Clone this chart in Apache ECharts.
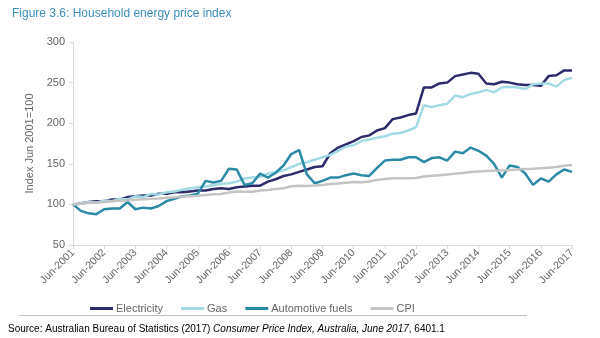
<!DOCTYPE html>
<html>
<head>
<meta charset="utf-8">
<script src="https://cdn.jsdelivr.net/npm/echarts@6/dist/echarts.min.js"></script>
<style>html,body{margin:0;padding:0;background:#fff}#c{width:600px;height:338px}</style>
</head>
<body>
<div id="c"></div>
<script>
var years = ['2001','2002','2003','2004','2005','2006','2007','2008','2009','2010','2011','2012','2013','2014','2015','2016','2017'];
var months = ['Jun','Sep','Dec','Mar'];
var categories = [];
for (var y = 0; y < years.length; y++) {
  for (var m = 0; m < 4; m++) {
    if (y === years.length - 1 && m > 0) break;
    var yr = m === 3 ? years[y + 1] : years[y];
    categories.push(months[m] + '-' + yr);
  }
}

var electricity = [100,101,103,104,104,106,106,109,110,111, 111,113,113,115,115,116,117,117,119,120, 119,121,122,123,123,128,131,135,137,140, 143,146,147,163,170,174,178,183,185,191, 194,205,207,210,212,244,244,249,250,258, 260,262,261,249,248,251,250,248,247,247, 246,258,259,265,265];
var gas = [100,101,103,102,105,104,107,106,110,109, 113,112,115,116,118,120,121,122,124,125, 126,128,132,133,134,138,140,142,146,150, 152,155,158,161,166,171,173,178,180,182, 184,187,188,191,195,222,220,222,224,234, 232,236,238,241,238,244,245,244,242,248, 249,249,245,253,256];
var fuels = [100,92,89,88,94,95,95,103,94,96, 95,98,104,107,110,111,113,129,127,129, 144,143,124,126,138,133,139,148,162,167, 137,126,129,133,133,136,138,136,135,145, 154,155,155,158,158,152,157,158,154,165, 163,170,166,160,150,133,148,146,138,124, 132,128,137,143,140];
var cpi = [100,100.7,101.6,102.4,103,103.8,104.5,105.2,105.7,106.3, 106.9,107.3,108.1,108.8,109.6,110.1,110.6,111.6,112.4,112.9, 114.6,115.8,115.6,115.5,117,117.8,118.9,119.8,122.3,123, 122.7,123.2,124,125.1,125.6,126.6,127.5,127.4,128.2,130.2, 131.2,132.2,132.3,132.1,132.6,134.4,135.2,136,136.8,137.9, 138.8,139.8,140.4,141,141.4,141.6,142.4,143,143.7,144, 144.4,145.2,146,147.5,148.5];
var seriesNames = ['Electricity','Gas','Automotive fuels','CPI'];
var yTicks = [50, 100, 150, 200, 250, 300];

var colors = ['#2d2b6b', '#a3dbe4', '#2a8aa5', '#c4c4c4'];
var font = 'Liberation Sans, Arial, sans-serif';

function mk(name, data, color) {
  return {
    name: name, type: 'line', data: data, symbol: 'none',
    lineStyle: { width: 2.5, color: color }, itemStyle: { color: color },
    animation: false
  };
}

var chart = echarts.init(document.getElementById('c'), null, { renderer: 'canvas' });
chart.setOption({
  animation: false,
  textStyle: { fontFamily: font },
  title: {
    text: 'Figure 3.6: Household energy price index',
    left: 7, top: 3,
    textStyle: { fontFamily: font, fontSize: 12, fontWeight: 'normal', color: '#3b8dbd' }
  },
  grid: { left: 73, right: 28, top: 42, bottom: 93, containLabel: false },
  legend: {
    data: seriesNames,
    left: 85, top: 298,
    icon: 'rect', itemWidth: 23, itemHeight: 3, itemGap: 18,
    textStyle: { fontFamily: font, fontSize: 11, color: '#666666', padding: [0, 0, 0, -2] }
  },
  xAxis: {
    type: 'category', data: categories, boundaryGap: false,
    axisLine: { lineStyle: { color: '#d9d9d9' } },
    axisTick: { show: true, interval: 3, length: 4, lineStyle: { color: '#d9d9d9' } },
    axisLabel: { interval: 3, rotate: 45, margin: 6, fontFamily: font, fontSize: 10.5, color: '#666666' }
  },
  yAxis: {
    type: 'value', min: yTicks[0], max: yTicks[yTicks.length - 1], interval: 50,
    name: 'Index Jun 2001=100', nameLocation: 'middle', nameGap: 37,
    nameTextStyle: { fontFamily: font, fontSize: 11, color: '#666666' },
    splitLine: { show: false },
    axisLine: { show: true, lineStyle: { color: '#d9d9d9' } },
    axisTick: { show: true, length: 4, lineStyle: { color: '#d9d9d9' } },
    axisLabel: { margin: 8, fontFamily: font, fontSize: 11, color: '#666666' }
  },
  series: [
    mk(seriesNames[0], electricity, colors[0]),
    mk(seriesNames[1], gas, colors[1]),
    mk(seriesNames[2], fuels, colors[2]),
    mk(seriesNames[3], cpi, colors[3])
  ],
  graphic: [
    { type: 'line', shape: { x1: 19, y1: 315.5, x2: 527, y2: 315.5 }, style: { stroke: '#bfbfbf', lineWidth: 1 } },
    { type: 'text', left: 8, top: 324,
      style: {
        text: '{n|Source: Australian Bureau of Statistics (2017) }{i|Consumer Price Index, Australia, June 2017}{n|, 6401.1}',
        rich: {
          n: { fontFamily: font, fontSize: 10, color: '#404040' },
          i: { fontFamily: font, fontSize: 10, fontStyle: 'italic', color: '#404040' }
        }
      }
    }
  ]
});
</script>
</body>
</html>
